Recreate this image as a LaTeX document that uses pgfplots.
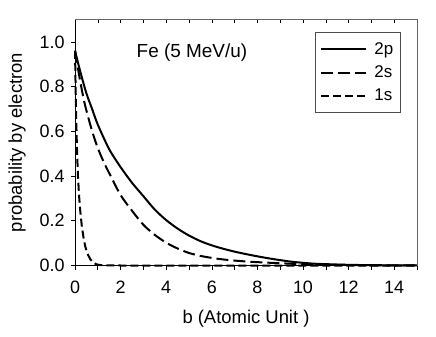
\documentclass[border=0pt]{standalone}
\usepackage{fontspec}
\setmainfont{Liberation Sans}
\usepackage{pgfplots}
\pgfplotsset{compat=1.18}
\begin{document}
\begin{tikzpicture}
\begin{axis}[
  scale only axis, width=342bp, height=246bp,
  xmin=0, xmax=15, ymin=0, ymax=1.1,
  axis x line*=bottom, axis y line*=left,
  axis line style={black, line width=0.8bp, -},
  xtick={0,2,...,14}, minor xtick={1,3,...,15},
  ytick={0,0.2,...,1.0},
  tick align=outside, major tick length=4bp, minor tick length=4bp,
  tick style={black, line width=0.6bp},
  /pgf/number format/assume math mode=true,
  yticklabel style={/pgf/number format/fixed, /pgf/number format/precision=1, /pgf/number format/fixed zerofill},
  ticklabel style={font=\fontsize{18}{20}\selectfont},
  xticklabel style={yshift=-8bp},
  yticklabel style={xshift=-3bp},
  xlabel={b (Atomic Unit )}, ylabel={probability by electron},
  label style={font=\fontsize{18.5}{21}\selectfont},
  xlabel style={yshift=-10bp},
  ylabel style={yshift=7bp},
  clip=false,
  legend style={at={(0.702,0.948)}, anchor=north west, draw=black!70, line width=0.6bp,
    inner xsep=5bp, inner ysep=8bp, row sep=6bp, font=\fontsize{17}{19}\selectfont,
    cells={anchor=west}},
  legend image code/.code={\draw[#1] (0bp,0bp) -- (45bp,0bp);},
]
\addplot[black, line width=2bp, smooth, tension=0.5] coordinates {
(0,0.96) (0.25,0.86) (0.5,0.77) (0.75,0.70) (1.0,0.63) (1.5,0.52) (2.0,0.44)
(2.5,0.37) (3.0,0.31) (3.5,0.25) (4.0,0.203) (4.5,0.165) (5.0,0.134) (5.5,0.109)
(6.0,0.09) (6.5,0.075) (7.0,0.062) (7.5,0.051) (8.0,0.041) (8.5,0.032) (9.0,0.024)
(9.5,0.017) (10,0.012) (10.5,0.008) (11,0.006) (12,0.003) (13,0.0015) (14,0.0008) (15,0.0004)
};
\addlegendentry{\hspace{5bp}2p}
\addplot[black, line width=2bp, dash pattern=on 12bp off 5bp, smooth, tension=0.5] coordinates {
(0,0.96) (0.2,0.84) (0.4,0.735) (0.6,0.655) (0.8,0.585) (1.0,0.525) (1.25,0.465)
(1.5,0.413) (2.0,0.315) (2.5,0.245) (3.0,0.182) (3.5,0.137) (4.0,0.102) (4.5,0.076)
(5.0,0.056) (5.5,0.043) (6.0,0.034) (6.5,0.027) (7.0,0.022) (7.5,0.018) (8.0,0.015)
(9.0,0.01) (10,0.006) (11,0.004) (12,0.002) (13,0.001) (15,0.0003)
};
\addlegendentry{\hspace{5bp}2s}
\addplot[black, line width=2bp, dash pattern=on 8bp off 4bp] coordinates {
(0,0.96) (0.03,0.78) (0.06,0.63) (0.09,0.51) (0.13,0.40) (0.18,0.31) (0.23,0.245)
(0.30,0.175) (0.38,0.12) (0.45,0.085) (0.55,0.052) (0.67,0.028) (0.8,0.013)
(0.95,0.005) (1.1,0.002) (1.5,0.0005) (2,0) (15,0)
};
\addlegendentry{\hspace{5bp}1s}
\node[font=\fontsize{19}{21}\selectfont] at (axis cs:5.13,0.95) {Fe (5 MeV/u)};
\path (rel axis cs:0,0) ++(-75bp,-71.5bp) rectangle ++(436bp,337bp);
\end{axis}
\begin{axis}[
  scale only axis, width=342bp, height=246bp,
  xmin=0, xmax=15, ymin=0, ymax=1.1,
  axis x line*=top, axis y line*=right,
  axis line style={black!60, line width=0.6bp, -},
  xtick={0,1,...,15}, ytick=\empty,
  xticklabels={}, tick align=inside, major tick length=4bp,
  tick style={black, line width=0.6bp},
]
\end{axis}
\end{tikzpicture}
\end{document}
